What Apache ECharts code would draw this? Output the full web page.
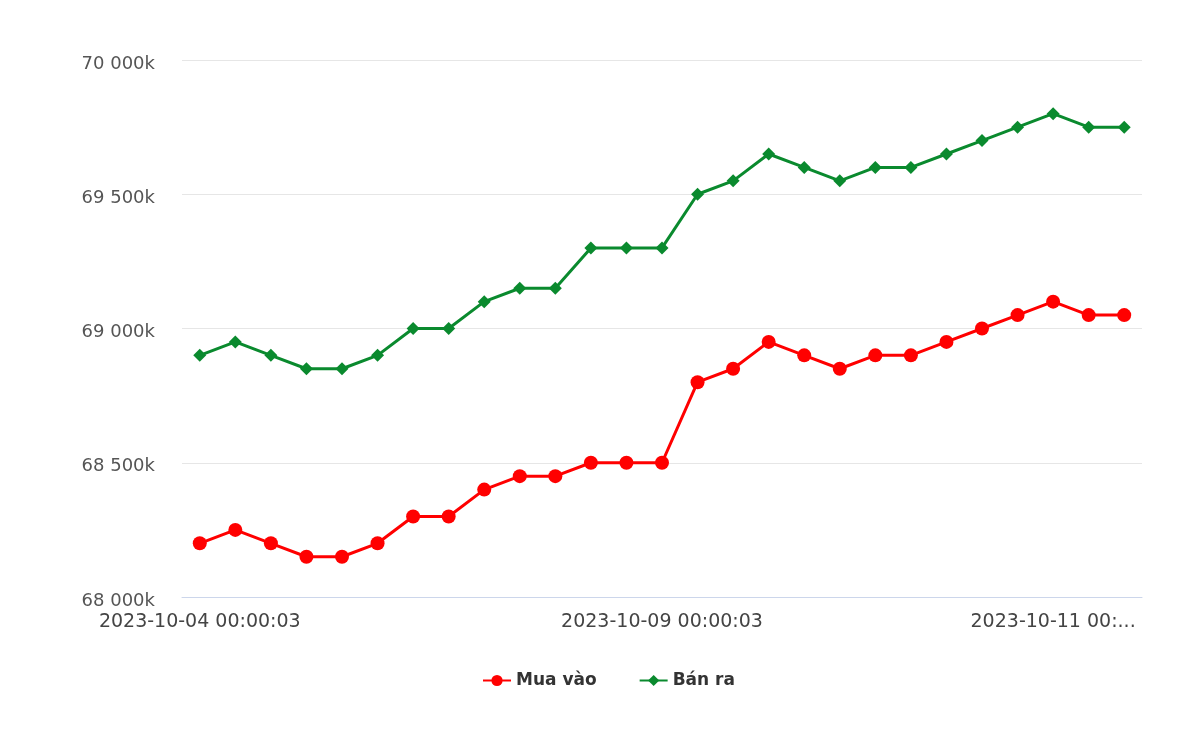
<!DOCTYPE html>
<html>
<head>
<meta charset="utf-8">
<script src="https://cdn.jsdelivr.net/npm/echarts@6/dist/echarts.min.js"></script>
<style>html,body{margin:0;padding:0;background:#fff}#c{width:1200px;height:730px}</style>
</head>
<body>
<div id="c"></div>
<script>
// x-axis tick labels (only the labelled positions carry text)
const categories = [
  '2023-10-04 00:00:03','','','','','','','','','','','','',
  '2023-10-09 00:00:03','','','','','','','','','','',
  '2023-10-11 00:...','',''
];
// Mua vào (buy), thousand units
const buy = [68200,68250,68200,68150,68150,68200,68300,68300,68400,68450,68450,68500,68500,68500,
             68800,68850,68950,68900,68850,68900,68900,68950,69000,69050,69100,69050,69050];
// Bán ra (sell), thousand units
const sell = [68900,68950,68900,68850,68850,68900,69000,69000,69100,69150,69150,69300,69300,69300,
              69500,69550,69650,69600,69550,69600,69600,69650,69700,69750,69800,69750,69750];
const yTicks = [68000, 68500, 69000, 69500, 70000];

const chart = echarts.init(document.getElementById('c'), null, {renderer: 'canvas'});
const fontFam = "'DejaVu Sans', Verdana, sans-serif";
chart.setOption({
  animation: false,
  grid: {left: 182, right: 58, top: 60, bottom: 133},
  legend: {
    top: 667, left: 477,
    itemWidth: 28, itemHeight: 14, itemGap: 42,
    textStyle: {fontFamily: fontFam, fontSize: 17, fontWeight: 'bold', color: '#333'},
    data: ['Mua vào', 'Bán ra']
  },
  xAxis: {
    type: 'category',
    data: categories,
    boundaryGap: true,
    axisLine: {lineStyle: {color: '#ccd6eb', width: 1}},
    axisTick: {show: false},
    axisLabel: {
      interval: (i, v) => v !== '',
      margin: 16,
      fontFamily: fontFam, fontSize: 19, color: '#444',
      hideOverlap: false
    },
    splitLine: {show: false}
  },
  yAxis: {
    type: 'value',
    min: yTicks[0], max: yTicks[yTicks.length - 1], interval: 500,
    axisLine: {show: false},
    axisTick: {show: false},
    axisLabel: {
      margin: 27,
      formatter: v => '{a|' + String(v).replace(/\B(?=(\d{3})+(?!\d))/g, ' ') + 'k}',
      rich: {a: {fontFamily: fontFam, fontSize: 18, color: '#555', padding: [8, 0, 0, 0]}}
    },
    splitLine: {lineStyle: {color: '#e6e6e6', width: 1}}
  },
  series: [
    {
      name: 'Mua vào', type: 'line', data: buy,
      symbol: 'circle', symbolSize: 14,
      lineStyle: {color: '#ff0000', width: 3},
      itemStyle: {color: '#ff0000'}
    },
    {
      name: 'Bán ra', type: 'line', data: sell,
      symbol: 'diamond', symbolSize: 13,
      lineStyle: {color: '#0a8a2e', width: 3},
      itemStyle: {color: '#0a8a2e'}
    }
  ]
});
</script>
</body>
</html>
